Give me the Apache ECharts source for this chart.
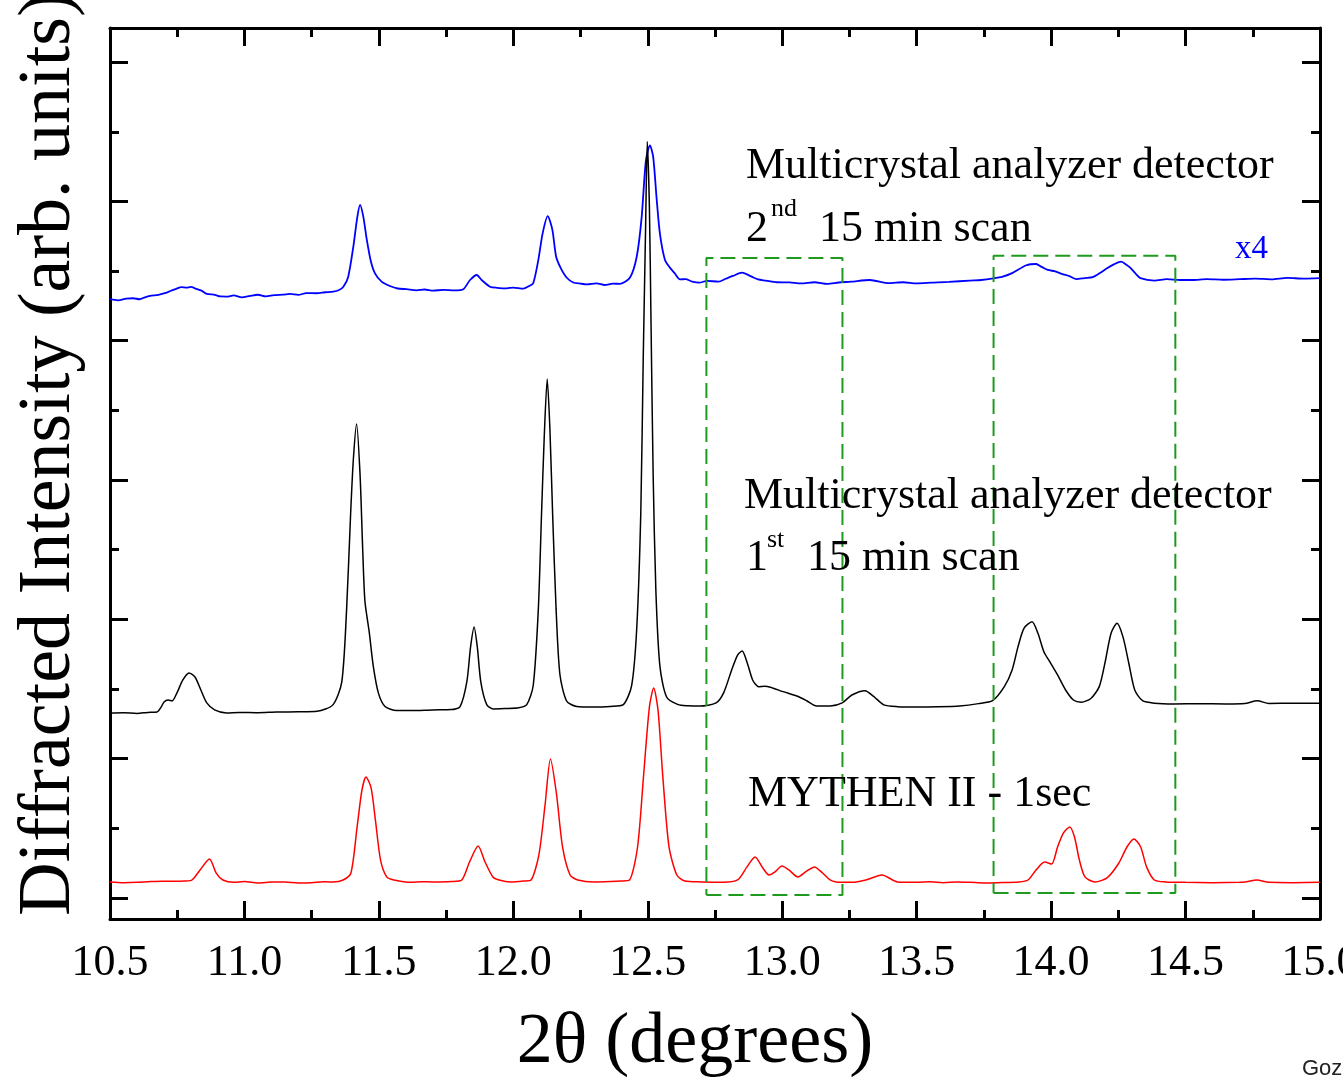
<!DOCTYPE html>
<html>
<head>
<meta charset="utf-8">
<script src="https://cdn.jsdelivr.net/npm/echarts@6/dist/echarts.min.js"></script>
<style>
html,body{margin:0;padding:0;background:#fff;}
#chart{width:1343px;height:1080px;}
</style>
</head>
<body>
<div id="chart"></div>
<script>
// ---- data (2theta in degrees, intensity in arbitrary units; one major tick = 1 unit) ----
const xTickLabels = ['10.5','11.0','11.5','12.0','12.5','13.0','13.5','14.0','14.5','15.0'];
const yMajorTicks = [0,1,2,3,4,5,6];
const yMinorTicks = [0.5,1.5,2.5,3.5,4.5,5.5];
const X_MIN = 10.5, X_MAX = 15.0;
const Y_MIN = -0.151, Y_MAX = 6.245;

// Multicrystal analyzer detector, 2nd 15 min scan (x4, offset)
const blueScan2 = [[10.50,4.298],[10.53,4.290],[10.56,4.302],[10.586,4.305],[10.61,4.298],[10.63,4.312],[10.649,4.322],[10.68,4.330],[10.711,4.345],[10.73,4.362],[10.748,4.374],[10.765,4.385],[10.785,4.381],[10.80,4.386],[10.822,4.372],[10.84,4.360],[10.860,4.336],[10.89,4.330],[10.91,4.318],[10.934,4.317],[10.96,4.325],[10.99,4.312],[11.021,4.322],[11.05,4.330],[11.08,4.318],[11.11,4.328],[11.144,4.331],[11.17,4.336],[11.20,4.329],[11.23,4.342],[11.269,4.341],[11.30,4.348],[11.330,4.352],[11.350,4.362],[11.368,4.388],[11.386,4.460],[11.405,4.676],[11.420,4.891],[11.430,4.975],[11.442,4.891],[11.455,4.726],[11.469,4.580],[11.485,4.485],[11.510,4.424],[11.541,4.393],[11.57,4.375],[11.603,4.370],[11.64,4.362],[11.67,4.368],[11.702,4.360],[11.74,4.365],[11.78,4.362],[11.814,4.370],[11.839,4.436],[11.864,4.472],[11.882,4.436],[11.913,4.388],[11.94,4.380],[11.975,4.376],[12.00,4.382],[12.037,4.374],[12.058,4.392],[12.074,4.413],[12.093,4.580],[12.109,4.771],[12.128,4.894],[12.145,4.798],[12.159,4.605],[12.176,4.523],[12.198,4.454],[12.223,4.418],[12.25,4.410],[12.273,4.405],[12.31,4.412],[12.34,4.400],[12.37,4.410],[12.397,4.408],[12.434,4.454],[12.459,4.605],[12.477,4.882],[12.493,5.293],[12.508,5.403],[12.520,5.321],[12.533,5.018],[12.545,4.771],[12.564,4.580],[12.583,4.523],[12.601,4.482],[12.620,4.441],[12.640,4.442],[12.665,4.425],[12.692,4.417],[12.72,4.430],[12.763,4.424],[12.790,4.445],[12.816,4.465],[12.851,4.489],[12.886,4.460],[12.910,4.440],[12.939,4.432],[12.98,4.420],[13.027,4.419],[13.07,4.412],[13.12,4.420],[13.168,4.408],[13.21,4.418],[13.256,4.424],[13.326,4.436],[13.397,4.413],[13.45,4.420],[13.50,4.412],[13.556,4.417],[13.62,4.422],[13.697,4.432],[13.74,4.436],[13.785,4.447],[13.82,4.460],[13.855,4.485],[13.908,4.542],[13.944,4.551],[13.965,4.530],[13.988,4.508],[14.015,4.498],[14.040,4.480],[14.07,4.462],[14.094,4.442],[14.125,4.450],[14.155,4.456],[14.185,4.490],[14.208,4.521],[14.235,4.550],[14.261,4.568],[14.280,4.545],[14.296,4.521],[14.315,4.480],[14.332,4.449],[14.384,4.432],[14.43,4.442],[14.48,4.436],[14.525,4.436],[14.58,4.442],[14.64,4.438],[14.702,4.442],[14.76,4.446],[14.82,4.441],[14.878,4.451],[14.94,4.446],[15.00,4.449]];

// Multicrystal analyzer detector, 1st 15 min scan (offset)
const blackScan1 = [[10.50,1.328],[10.55,1.330],[10.60,1.325],[10.64,1.332],[10.675,1.335],[10.690,1.370],[10.701,1.407],[10.716,1.421],[10.731,1.414],[10.749,1.472],[10.771,1.565],[10.794,1.615],[10.816,1.586],[10.838,1.493],[10.860,1.400],[10.889,1.350],[10.933,1.328],[10.98,1.332],[11.05,1.330],[11.12,1.335],[11.20,1.336],[11.27,1.340],[11.329,1.386],[11.362,1.551],[11.380,2.075],[11.395,2.764],[11.405,3.148],[11.417,3.403],[11.430,3.037],[11.440,2.491],[11.448,2.132],[11.464,1.910],[11.479,1.666],[11.498,1.472],[11.523,1.374],[11.566,1.346],[11.62,1.345],[11.70,1.350],[11.77,1.352],[11.802,1.374],[11.827,1.551],[11.841,1.802],[11.854,1.945],[11.866,1.802],[11.879,1.551],[11.901,1.388],[11.925,1.357],[11.97,1.360],[12.02,1.365],[12.050,1.388],[12.074,1.525],[12.093,2.075],[12.105,2.764],[12.115,3.313],[12.126,3.726],[12.136,3.367],[12.146,2.764],[12.159,2.075],[12.173,1.608],[12.198,1.414],[12.236,1.374],[12.30,1.370],[12.36,1.375],[12.409,1.388],[12.440,1.525],[12.459,1.938],[12.474,2.764],[12.483,3.862],[12.492,4.824],[12.498,5.431],[12.506,4.963],[12.512,4.138],[12.520,3.037],[12.530,2.211],[12.545,1.666],[12.570,1.443],[12.613,1.388],[12.65,1.380],[12.694,1.378],[12.754,1.400],[12.782,1.472],[12.812,1.637],[12.834,1.744],[12.851,1.773],[12.870,1.687],[12.890,1.565],[12.912,1.517],[12.935,1.520],[12.956,1.513],[13.003,1.481],[13.054,1.450],[13.091,1.416],[13.128,1.378],[13.179,1.378],[13.223,1.400],[13.259,1.457],[13.308,1.488],[13.341,1.445],[13.378,1.386],[13.429,1.373],[13.50,1.370],[13.58,1.372],[13.66,1.378],[13.73,1.395],[13.782,1.416],[13.826,1.517],[13.855,1.637],[13.877,1.804],[13.899,1.936],[13.929,1.983],[13.951,1.900],[13.973,1.768],[13.995,1.696],[14.024,1.601],[14.054,1.493],[14.083,1.421],[14.112,1.405],[14.149,1.434],[14.179,1.517],[14.200,1.685],[14.223,1.900],[14.245,1.972],[14.267,1.876],[14.289,1.685],[14.311,1.493],[14.340,1.416],[14.384,1.398],[14.458,1.393],[14.55,1.395],[14.65,1.393],[14.72,1.396],[14.767,1.416],[14.81,1.396],[14.90,1.398],[15.00,1.398]];

// MYTHEN II - 1 sec
const redMythen = [[10.50,0.115],[10.55,0.110],[10.60,0.112],[10.65,0.118],[10.70,0.120],[10.78,0.122],[10.805,0.129],[10.835,0.201],[10.870,0.280],[10.895,0.179],[10.920,0.129],[10.96,0.112],[11.00,0.118],[11.05,0.108],[11.10,0.114],[11.15,0.115],[11.20,0.108],[11.25,0.110],[11.30,0.116],[11.33,0.115],[11.367,0.129],[11.396,0.179],[11.419,0.510],[11.437,0.775],[11.452,0.869],[11.471,0.790],[11.487,0.560],[11.506,0.273],[11.529,0.151],[11.556,0.129],[11.62,0.112],[11.66,0.117],[11.70,0.115],[11.77,0.118],[11.808,0.129],[11.837,0.258],[11.869,0.373],[11.895,0.258],[11.924,0.151],[11.947,0.129],[11.99,0.115],[12.04,0.122],[12.066,0.129],[12.095,0.309],[12.118,0.668],[12.138,0.998],[12.160,0.754],[12.183,0.366],[12.211,0.165],[12.240,0.129],[12.30,0.115],[12.36,0.118],[12.40,0.122],[12.432,0.129],[12.462,0.366],[12.484,0.869],[12.506,1.371],[12.522,1.508],[12.538,1.350],[12.556,0.869],[12.579,0.366],[12.608,0.165],[12.638,0.122],[12.70,0.115],[12.78,0.112],[12.834,0.129],[12.869,0.223],[12.899,0.294],[12.928,0.215],[12.951,0.165],[12.973,0.187],[12.999,0.230],[13.025,0.201],[13.058,0.151],[13.092,0.194],[13.120,0.223],[13.150,0.179],[13.178,0.129],[13.200,0.115],[13.26,0.112],[13.311,0.129],[13.371,0.165],[13.429,0.115],[13.50,0.112],[13.55,0.116],[13.60,0.110],[13.65,0.114],[13.70,0.112],[13.75,0.108],[13.80,0.110],[13.88,0.115],[13.914,0.129],[13.944,0.201],[13.976,0.258],[14.002,0.244],[14.024,0.366],[14.046,0.467],[14.069,0.510],[14.087,0.438],[14.105,0.273],[14.126,0.151],[14.163,0.115],[14.208,0.144],[14.252,0.251],[14.282,0.366],[14.308,0.424],[14.333,0.366],[14.355,0.223],[14.384,0.129],[14.427,0.115],[14.50,0.112],[14.60,0.110],[14.70,0.112],[14.721,0.115],[14.765,0.129],[14.810,0.112],[14.90,0.110],[15.0,0.112]];

// highlighted 2theta regions: [x from, x to, y from, y to]
const boxRegions = [[12.718,13.224,0.022,4.594],[13.786,14.462,0.036,4.610]];

const chart = echarts.init(document.getElementById('chart'), null, {renderer:'canvas'});

const SERIF = '"Liberation Serif", "Times New Roman", serif';
const axisLineStyle = {color:'#000', width:3};
const tickStyle = {color:'#000', width:3};

function xAxisDef(pos, showLabel){
  return {
    type:'value', min:X_MIN, max:X_MAX, interval:0.5, position:pos,
    axisLine:{show:true, onZero:false, lineStyle:axisLineStyle},
    axisTick:{show:true, inside:true, length:18, lineStyle:tickStyle},
    minorTick:{show:true, splitNumber:2, length:9, lineStyle:tickStyle},
    splitLine:{show:false}, minorSplitLine:{show:false},
    axisLabel:{show:showLabel, margin:22, color:'#000', fontFamily:SERIF, fontSize:44,
      showMinLabel:true, showMaxLabel:true, hideOverlap:false,
      formatter:(v)=>{ const i = Math.round((v - X_MIN)/0.5); return xTickLabels[i] !== undefined ? xTickLabels[i] : v.toFixed(1); }}
  };
}
function yAxisDef(pos, ticks, len, line){
  return {
    type:'value', min:Y_MIN, max:Y_MAX, position:pos,
    axisLine:{show:line, onZero:false, lineStyle:axisLineStyle},
    axisTick:{show:true, inside:true, length:len, lineStyle:tickStyle, customValues:ticks},
    axisLabel:{show:false, customValues:ticks},
    splitLine:{show:false}, minorTick:{show:false}
  };
}

const series = [
  {name:'2nd scan', data:blueScan2, color:'#0000ff', width:1.8},
  {name:'1st scan', data:blackScan1, color:'#000000', width:1.5},
  {name:'MYTHEN', data:redMythen, color:'#ff0000', width:1.5}
].map(s=>({
  type:'line', name:s.name, data:s.data, xAxisIndex:0, yAxisIndex:0,
  showSymbol:false, symbol:'none', smooth:0.25, silent:true,
  lineStyle:{color:s.color, width:s.width}, itemStyle:{color:s.color}, z:2
}));

boxRegions.forEach((b,i)=>{
  series.push({
    type:'line', name:'box'+i, xAxisIndex:0, yAxisIndex:0, showSymbol:false, symbol:'none', silent:true,
    data:[[b[0],b[2]],[b[1],b[2]],[b[1],b[3]],[b[0],b[3]],[b[0],b[2]]],
    lineStyle:{color:'#1e9b1e', width:2, type:[15,7]}, z:3
  });
});

function txt(text, x, y, size, color, extra){
  return Object.assign({
    type:'text', x:x, y:y, z:10,
    style:{text:text, font: size+'px "Liberation Serif", "Times New Roman", serif', fill:color||'#000', align:'left', verticalAlign:'middle'}
  }, extra||{});
}

const option = {
  animation:false,
  backgroundColor:'#ffffff',
  grid:{left:110, right:23, top:28, bottom:161, containLabel:false, outerBoundsMode:'none'},
  xAxis:[xAxisDef('bottom', true), xAxisDef('top', false)],
  yAxis:[
    yAxisDef('left', yMajorTicks, 18, true),
    yAxisDef('left', yMinorTicks, 9, false),
    yAxisDef('right', yMajorTicks, 18, true),
    yAxisDef('right', yMinorTicks, 9, false)
  ],
  series:series,
  graphic:[
    txt('Multicrystal analyzer detector', 746, 166, 44),
    txt('2', 746, 229.6, 44),
    txt('nd', 771, 209, 26),
    txt('15 min scan', 819, 229.6, 44),
    txt('x4', 1235, 249, 33, '#0000ff'),
    txt('Multicrystal analyzer detector', 744, 496.6, 44),
    txt('1', 746, 558.6, 44),
    txt('st', 767, 540, 26),
    txt('15 min scan', 807, 558.6, 44),
    txt('MYTHEN II - 1sec', 748, 794.6, 44),
    {type:'text', x:695, y:1043, z:10,
     style:{text:'2θ (degrees)', font:'72px "Liberation Serif", "Times New Roman", serif', fill:'#000', align:'center', verticalAlign:'middle'}},
    {type:'text', x:50, y:454, rotation:Math.PI/2, z:10,
     style:{text:'Diffracted Intensity (arb. units)', font:'74px "Liberation Serif", "Times New Roman", serif', fill:'#000', align:'center', verticalAlign:'middle'}},
    {type:'text', x:1302, y:1069, z:10,
     style:{text:'Gozzo', font:'22px "Liberation Sans", Arial, sans-serif', fill:'#222', align:'left', verticalAlign:'middle'}}
  ]
};
chart.setOption(option);
</script>
</body>
</html>
